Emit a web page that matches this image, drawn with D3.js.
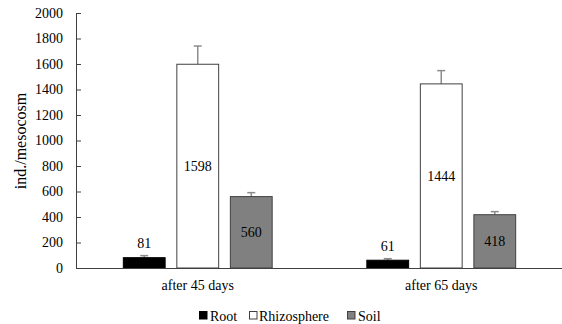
<!DOCTYPE html>
<html><head><meta charset="utf-8">
<script src="https://cdn.jsdelivr.net/npm/d3@7"></script>
<style>body{margin:0;background:#fff}svg{display:block}svg text{font-family:"Liberation Serif","Times New Roman",serif !important;fill:#000}</style>
</head><body><svg id="c" width="562" height="324"></svg>
<script>
const categories = ["after 45 days", "after 65 days"];
const seriesNames = ["Root", "Rhizosphere", "Soil"];
const rootValues = [81, 61];
const rhizoValues = [1598, 1444];
const soilValues = [560, 418];
const rootErr = [16, 12];
const rhizoErr = [143, 104];
const soilErr = [31, 24];
const yTicks = [0, 200, 400, 600, 800, 1000, 1200, 1400, 1600, 1800, 2000];

(function () {
const FONT = '"Liberation Serif", "Times New Roman", serif';
const values = [rootValues, rhizoValues, soilValues];
const errs = [rootErr, rhizoErr, soilErr];
const fills = ["#000000", "#ffffff", "#808080"];
const strokes = ["#000000", "#404040", "#404040"];
const labelInside = [false, true, true];

const svg = d3.select("#c");
const mLeft = 76, mRight = 563, mTop = 13, mBottom = 268;
const x = d3.scaleBand().domain(categories).range([mLeft, mRight]).padding(0);
const xi = d3.scaleBand().domain(seriesNames).range([0, x.bandwidth()]).paddingInner(0.2).paddingOuter(0.875);
const y = d3.scaleLinear().domain([0, 2000]).range([mBottom, mTop]);

// y axis
const ya = svg.append("g").attr("transform", `translate(${mLeft},0)`)
  .call(d3.axisLeft(y).tickValues(yTicks).tickSizeInner(-5).tickSizeOuter(0).tickPadding(13).tickFormat(d3.format("d")));
ya.attr("font-family", FONT);
ya.select(".domain").attr("stroke", "#404040");
ya.selectAll(".tick line").attr("stroke", "#404040");
ya.selectAll(".tick text").style("font-size", "14px").style("font-family", FONT);

// bars
categories.forEach((c, ci) => {
  seriesNames.forEach((s, si) => {
    const v = values[si][ci], e = errs[si][ci];
    const bx = x(c) + xi(s), bw = xi.bandwidth();
    const cx = bx + bw / 2;
    svg.append("line").attr("x1", cx).attr("x2", cx).attr("y1", y(v)).attr("y2", y(v + e))
      .attr("stroke", "#8c8c8c").attr("stroke-width", 1.5);
    svg.append("line").attr("x1", cx - 4).attr("x2", cx + 4).attr("y1", y(v + e)).attr("y2", y(v + e))
      .attr("stroke", "#8c8c8c").attr("stroke-width", 1.5);
    svg.append("rect").attr("x", bx + 0.5).attr("y", y(v)).attr("width", bw - 1).attr("height", y(0) - y(v))
      .attr("fill", fills[si]).attr("stroke", strokes[si]).attr("stroke-width", 1);
    const ty = labelInside[si] ? (y(v) + y(0)) / 2 + 5 : y(v + e) - 8;
    svg.append("text").attr("x", cx).attr("y", ty).attr("text-anchor", "middle")
      .style("font-size", "14px").style("font-family", FONT).text(v);
  });
});

// x axis
const xa = svg.append("g").attr("transform", `translate(0,${mBottom})`)
  .call(d3.axisBottom(x).tickSize(0).tickPadding(12));
xa.attr("font-family", FONT);
xa.select(".domain").attr("stroke", "#404040").attr("stroke-width", 1.2);
xa.selectAll(".tick text").style("font-size", "14px").style("font-family", FONT);

// y title
svg.append("text").attr("transform", "translate(26,141) rotate(-90)").attr("text-anchor", "middle")
  .style("font-size", "16px").style("font-family", FONT).text("ind./mesocosm");

// legend
const legX = [199, 249, 347];
seriesNames.forEach((s, si) => {
  svg.append("rect").attr("x", legX[si] + 0.5).attr("y", 311.5).attr("width", 7.5).attr("height", 7.5)
    .attr("fill", fills[si]).attr("stroke", strokes[si]).attr("stroke-width", 1);
  svg.append("text").attr("x", legX[si] + (si === 1 ? 10 : 11)).attr("y", 320.5)
    .style("font-size", "14px").style("font-family", FONT).text(s);
});
})();
</script></body></html>
